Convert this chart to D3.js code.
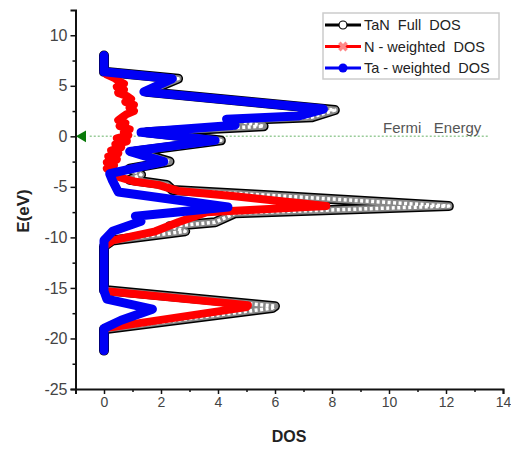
<!DOCTYPE html>
<html>
<head>
<meta charset="utf-8">
<script src="https://d3js.org/d3.v7.min.js"></script>
<style>
  body { margin: 0; background: #fff; }
  text { font-family: Arial, "Liberation Sans", sans-serif; white-space: pre; }
</style>
</head>
<body>
<div id="chart"></div>
<script>
// values: energy (eV) and DOS for each curve
var fullE   = [8.0, 6.4, 5.7, 4.4, 2.6, 1.9, 1.6, 1.0, 0.4, -0.4, -1.5, -2.5, -3.2, -3.8, -4.3, -4.8, -5.3, -5.8, -6.9, -7.6, -8.5, -8.9, -9.4, -10.3, -10.9, -15.2, -16.8, -17.0, -19.1, -21.2];
var fullDos = [0, 0, 2.6, 1.5, 8.1, 7.3, 4.6, 5.6, 1.5, 4.1, 1.1, 2.3, 0.9, 1.3, 0.9, 2.2, 2.4, 5.6, 12.1, 4.6, 3.9, 2.3, 2.85, 0.3, 0, 0, 6.0, 5.9, 0, 0];

var nE   = [6.4, 6.1, 5.8, 5.5, 5.2, 4.9, 4.6, 4.3, 4.0, 3.7, 3.4, 3.1, 2.8, 2.5, 2.2, 1.9, 1.6, 1.3, 1.0, 0.7, 0.4, 0.1, -0.2, -0.5, -0.8, -1.1, -1.4, -1.7, -2.0, -2.3, -2.6, -2.9, -3.2, -3.5, -3.8, -4.1, -4.5, -4.8, -5.4, -5.9, -6.9, -7.5, -8.5, -9.4, -10.3, -10.9, -15.3, -16.7, -16.9, -19.0, -21.2];
var nDos = [0, 0.1, 0.35, 0.5, 0.7, 0.45, 0.7, 0.5, 0.8, 0.95, 0.75, 1.05, 0.9, 1.05, 0.8, 0.65, 0.5, 0.75, 0.55, 0.9, 0.7, 0.85, 0.45, 0.8, 0.4, 0.6, 0.25, 0.5, 0.15, 0.45, 0.1, 0.35, 0.1, 0.4, 0.3, 0.6, 1.1, 1.9, 2.6, 4.5, 7.8, 3.6, 2.6, 1.8, 0.3, 0, 0, 5.05, 5.0, 0, 0];

var taE   = [8.0, 6.4, 5.7, 4.4, 2.7, 2.0, 1.7, 1.1, 0.4, -0.4, -1.5, -2.5, -3.7, -4.4, -5.5, -7.0, -7.9, -8.4, -9.4, -10.3, -10.9, -15.3, -16.1, -17.1, -18.2, -19.0, -21.2];
var taDos = [0, 0, 2.4, 1.4, 7.7, 6.8, 4.3, 4.6, 1.3, 3.9, 0.9, 2.1, 0.2, 0.3, 0.5, 4.35, 1.1, 1.3, 0.3, 0, 0, 0, 0.1, 1.7, 0.6, 0, 0];

var xTicks = [0, 2, 4, 6, 8, 10, 12, 14];
var yTicks = [10, 5, 0, -5, -10, -15, -20, -25];
var legendLabels = ["TaN  Full  DOS", "N - weighted  DOS", "Ta - weighted  DOS"];
var fermiLabel = "Fermi   Energy";

var width = 511;
var height = 453;

var svg = d3.select('#chart')
  .append('svg')
  .attr('width', width)
  .attr('height', height);

var x = d3.scaleLinear().domain([-1, 14]).range([75.5, 503]);
var y = d3.scaleLinear().domain([12.5, -25]).range([10, 389]);

function pairs(es, ds) {
  return es.map(function(e, i) { return [ds[i], e]; });
}

var line = d3.line()
  .x(function(d) { return x(d[0]); })
  .y(function(d) { return y(d[1]); });

// fermi level, dotted green with arrow at the axis
svg.append('line')
  .attr('x1', x(-0.5)).attr('x2', x(13.5))
  .attr('y1', y(0)).attr('y2', y(0))
  .attr('stroke', '#9c9')
  .attr('stroke-width', 1.5)
  .attr('stroke-dasharray', '2,2');

svg.append('path')
  .attr('d', d3.symbol().type(d3.symbolTriangle).size(60)())
  .attr('transform', 'translate(' + (x(-0.75)) + ',' + y(0) + ') rotate(-90)')
  .attr('fill', '#0a7a0a');

svg.append('text')
  .attr('x', 383).attr('y', y(0) - 3)
  .attr('font-size', 15)
  .attr('fill', '#555')
  .text(fermiLabel);

// full DOS: thick black band with open-circle look
var full = pairs(fullE, fullDos);
svg.append('path').datum(full)
  .attr('d', line).attr('fill', 'none')
  .attr('stroke', '#000').attr('stroke-width', 10)
  .attr('stroke-linejoin', 'round').attr('stroke-linecap', 'round');
svg.append('path').datum(full)
  .attr('d', line).attr('fill', 'none')
  .attr('stroke', '#888').attr('stroke-width', 7)
  .attr('stroke-linejoin', 'round').attr('stroke-linecap', 'round');
svg.append('path').datum(full)
  .attr('d', line).attr('fill', 'none')
  .attr('stroke', '#fff').attr('stroke-width', 3.5)
  .attr('stroke-dasharray', '3,2.5')
  .attr('stroke-linejoin', 'round');

// N weighted
svg.append('path').datum(pairs(nE, nDos))
  .attr('d', line).attr('fill', 'none')
  .attr('stroke', '#f00').attr('stroke-width', 8)
  .attr('stroke-linejoin', 'round').attr('stroke-linecap', 'round');

// Ta weighted
svg.append('path').datum(pairs(taE, taDos))
  .attr('d', line).attr('fill', 'none')
  .attr('stroke', '#0000f5').attr('stroke-width', 9)
  .attr('stroke-linejoin', 'round').attr('stroke-linecap', 'round');

// axes (plain hyphen minus like the original)
var fmt = function(d) { return String(d); };

var yAxis = svg.append('g')
  .attr('transform', 'translate(' + x(-1) + ',0)')
  .call(d3.axisLeft(y).tickValues(yTicks).tickSize(5).tickPadding(3).tickFormat(fmt));
svg.append('g')
  .attr('transform', 'translate(' + x(-1) + ',0)')
  .call(d3.axisLeft(y).tickValues([7.5, 2.5, -2.5, -7.5, -12.5, -17.5, -22.5]).tickSize(3).tickFormat(''))
  .select('.domain').remove();

var xAxis = svg.append('g')
  .attr('transform', 'translate(0,' + y(-25) + ')')
  .call(d3.axisBottom(x).tickValues(xTicks).tickSize(5).tickPadding(3).tickFormat(fmt));
svg.append('g')
  .attr('transform', 'translate(0,' + y(-25) + ')')
  .call(d3.axisBottom(x).tickValues([1, 3, 5, 7, 9, 11, 13]).tickSize(3).tickFormat(''))
  .select('.domain').remove();

svg.selectAll('.domain').attr('stroke', '#111').attr('stroke-width', 2);
svg.selectAll('.tick line').attr('stroke', '#111').attr('stroke-width', 1.5);
svg.selectAll('.tick text')
  .attr('fill', '#444')
  .attr('font-family', 'Arial, "Liberation Sans", sans-serif');
yAxis.selectAll('.tick text').attr('font-size', 16);
xAxis.selectAll('.tick text').attr('font-size', 14);

// axis titles
svg.append('text')
  .attr('transform', 'translate(29,211) rotate(-90)')
  .attr('text-anchor', 'middle')
  .attr('font-size', 17).attr('font-weight', 'bold')
  .attr('fill', '#222')
  .text('E(eV)');

svg.append('text')
  .attr('x', 289).attr('y', 442)
  .attr('text-anchor', 'middle')
  .attr('font-size', 16).attr('font-weight', 'bold')
  .attr('fill', '#222')
  .text('DOS');

// legend
var legend = svg.append('g');
legend.append('rect')
  .attr('x', 323).attr('y', 13)
  .attr('width', 176).attr('height', 66)
  .attr('fill', '#fff')
  .attr('stroke', '#ccc').attr('stroke-width', 1.5);

var legColors = ['#000', '#f00', '#0000f5'];
legendLabels.forEach(function(lbl, i) {
  var ly = 25 + i * 21.5;
  legend.append('line')
    .attr('x1', 325).attr('x2', 361)
    .attr('y1', ly).attr('y2', ly)
    .attr('stroke', legColors[i]).attr('stroke-width', 3);
  if (i === 0) {
    legend.append('circle').attr('cx', 343).attr('cy', ly).attr('r', 4)
      .attr('fill', '#fff').attr('stroke', '#000').attr('stroke-width', 1.2);
  } else if (i === 1) {
    legend.append('path')
      .attr('d', d3.symbol().type(d3.symbolCross).size(60)())
      .attr('transform', 'translate(343,' + ly + ') rotate(45)')
      .attr('fill', '#f88');
  } else {
    legend.append('circle').attr('cx', 343).attr('cy', ly).attr('r', 4.5)
      .attr('fill', '#0000f5');
  }
  legend.append('text')
    .attr('x', 364).attr('y', ly + 5)
    .attr('font-size', 14.5)
    .attr('fill', '#222')
    .text(lbl);
});
</script>
</body>
</html>
